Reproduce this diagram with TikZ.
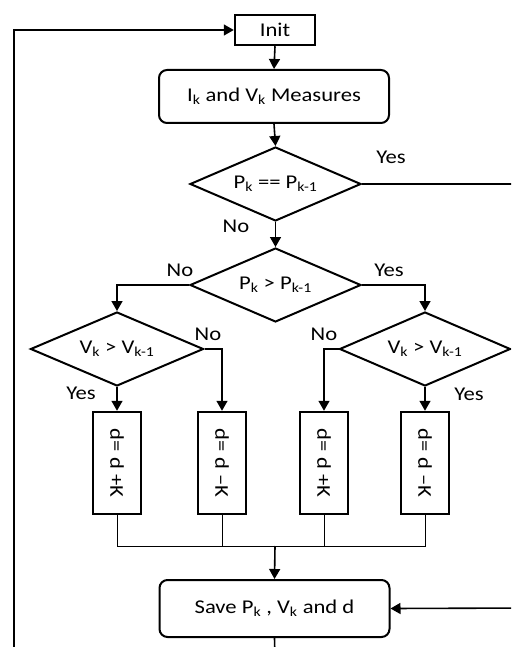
\documentclass[tikz,border=0pt]{standalone}
\usepackage{fontspec}
\setmainfont[FakeStretch=1.16]{Carlito}
\usepackage{graphicx}
\usetikzlibrary{shapes.geometric,arrows.meta}
\begin{document}
\begin{tikzpicture}[x=1pt,y=-1pt,
  every node/.style={font=\fontsize{19.5}{21}\selectfont},
  arr/.style={-{Triangle[length=10pt,width=11pt]}, line width=1.6pt},
  ln/.style={line width=1.6pt},
  mline/.style={line width=1pt},
  rbox/.style={draw, rounded corners=8pt, line width=2pt, minimum width=230pt, inner sep=0pt},
  dia/.style={draw, diamond, aspect=2.31, line width=2pt, minimum width=171pt, minimum height=74pt, inner sep=0pt},
  dbox/.style={draw, line width=2.5pt, minimum width=48pt, minimum height=102pt, inner sep=0pt},
  lbl/.style={inner sep=0pt}
]
\clip (0,0) rectangle (511,647);
\fill[white] (0,0) rectangle (511,647);

\node[draw, line width=2.5pt, minimum width=80pt, minimum height=30pt, inner sep=0pt] (init) at (275,30) {Init};
\node[rbox, minimum height=53pt] (meas) at (274,96.5) {I\textsubscript{k} and V\textsubscript{k} Measures};
\node[dia] (d1) at (275.5,184) {P\textsubscript{k} == P\textsubscript{k-1}};
\node[dia] (d2) at (275.5,285) {P\textsubscript{k} > P\textsubscript{k-1}};
\node[dia, minimum width=173pt] (d3) at (117,349) {V\textsubscript{k} > V\textsubscript{k-1}};
\node[dia] (d4) at (425,349) {V\textsubscript{k} > V\textsubscript{k-1}};

\node[dbox] (b1) at (117,463) {\rotatebox{-90}{d= d +K}};
\node[dbox] (b2) at (222,463) {\rotatebox{-90}{d= d \textendash K}};
\node[dbox] (b3) at (324,463) {\rotatebox{-90}{d= d +K}};
\node[dbox] (b4) at (425,463) {\rotatebox{-90}{d= d \textendash K}};

\node[rbox, minimum height=57pt] (save) at (274.5,608.5) {Save P\textsubscript{k} , V\textsubscript{k} and d};

% labels
\node[lbl] (y1) at (391,157) {Yes};
\node[lbl] (n1) at (236,226) {No};
\node[lbl] (n2) at (180,270) {No};
\node[lbl] (y2) at (389,270) {Yes};
\node[lbl] (n3) at (208,334) {No};
\node[lbl] (y3) at (81,393) {Yes};
\node[lbl] (n4) at (324,334) {No};
\node[lbl] (y4) at (469,394) {Yes};

% connectors
\coordinate (lp) at (14,660);
\draw[arr] (lp) |- (init.west);
\draw[arr] (init.south) -- (meas.north);
\draw[arr] (meas.south) -- (d1.north);
\coordinate (r1) at (530,184);
\draw[ln] (d1.east) -- (r1);
\draw[arr] (d1.south) -- (d2.north);
\draw[arr] (d2.west) -| (d3.north);
\draw[arr] (d2.east) -| (d4.north);
\draw[arr] (d3.south) -- (b1.north);
\draw[arr] (d3.east) -| (b2.north);
\draw[arr] (d4.west) -| (b3.north);
\draw[arr] (d4.south) -- (b4.north);

\coordinate (m) at (275,546);
\draw[mline] (b1.south) |- (m);
\draw[mline] (b2.south) |- (m);
\draw[mline] (b3.south) |- (m);
\draw[mline] (b4.south) |- (m);
\draw[arr] (m) -- (save.north);
\coordinate (r2) at (530,608);
\draw[arr] (r2) -- (save.east);
\coordinate (bt) at (275,660);
\draw[ln] (save.south) -- (bt);
\end{tikzpicture}
\end{document}
